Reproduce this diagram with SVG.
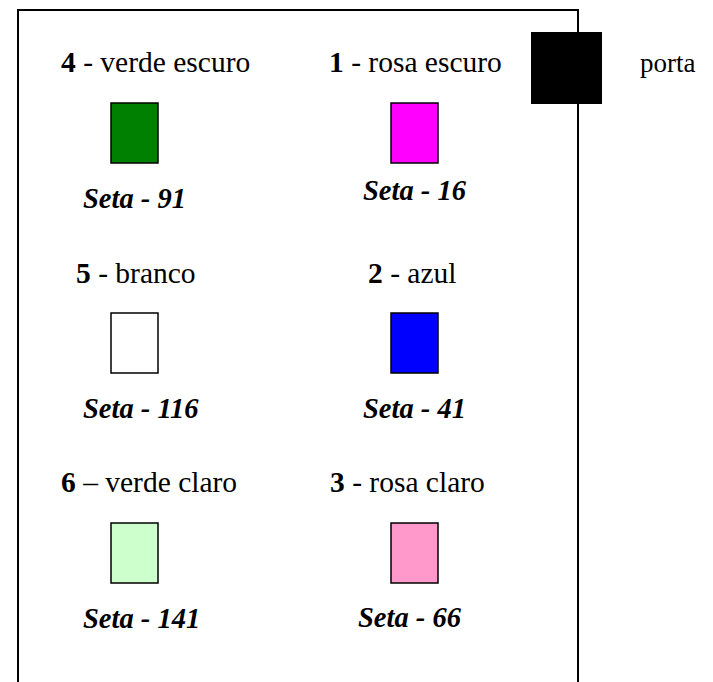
<svg xmlns="http://www.w3.org/2000/svg" width="713" height="682" viewBox="0 0 713 682">
<style>
.lbl{font-family:'Liberation Serif','Times New Roman',serif;font-size:29.5px;fill:#000}
.num{font-weight:bold}
.seta{font-family:'Liberation Serif','Times New Roman',serif;font-size:28.5px;font-weight:bold;font-style:italic;fill:#000}
.sw{stroke:#000;stroke-width:1.5}
</style>
<rect width="713" height="682" fill="#fff"/>
<g id="room">
<path d="M18,690 V10 H578 V690" fill="none" stroke="#000" stroke-width="2"/>
</g>
<g id="door">
<rect x="531" y="32" width="71" height="72" fill="#000"/>
<text class="lbl" x="640" y="72" style="font-size:27px">porta</text>
</g>
<g id="c4">
<text class="lbl" x="61" y="72"><tspan class="num">4</tspan> - verde escuro</text>
<rect class="sw" x="111" y="103" width="47" height="60" fill="#008000"/>
<text class="seta" x="83" y="208">Seta - 91</text>
</g>
<g id="c1">
<text class="lbl" x="329" y="72"><tspan class="num">1</tspan> - rosa escuro</text>
<rect class="sw" x="391" y="103" width="47" height="60" fill="#ff00ff"/>
<text class="seta" x="363" y="200">Seta - 16</text>
</g>
<g id="c5">
<text class="lbl" x="76" y="283"><tspan class="num">5</tspan> - branco</text>
<rect class="sw" x="111" y="313" width="47" height="60" fill="#ffffff"/>
<text class="seta" x="83" y="418">Seta - 116</text>
</g>
<g id="c2">
<text class="lbl" x="368" y="283"><tspan class="num">2</tspan> - azul</text>
<rect class="sw" x="391" y="313" width="47" height="60" fill="#0000ff"/>
<text class="seta" x="363" y="418">Seta - 41</text>
</g>
<g id="c6">
<text class="lbl" x="61" y="492"><tspan class="num">6</tspan> – verde claro</text>
<rect class="sw" x="111" y="523" width="47" height="60" fill="#ccffcc"/>
<text class="seta" x="83" y="628">Seta - 141</text>
</g>
<g id="c3">
<text class="lbl" x="330" y="492"><tspan class="num">3</tspan> - rosa claro</text>
<rect class="sw" x="391" y="523" width="47" height="60" fill="#ff99cc"/>
<text class="seta" x="358" y="627">Seta - 66</text>
</g>
</svg>
